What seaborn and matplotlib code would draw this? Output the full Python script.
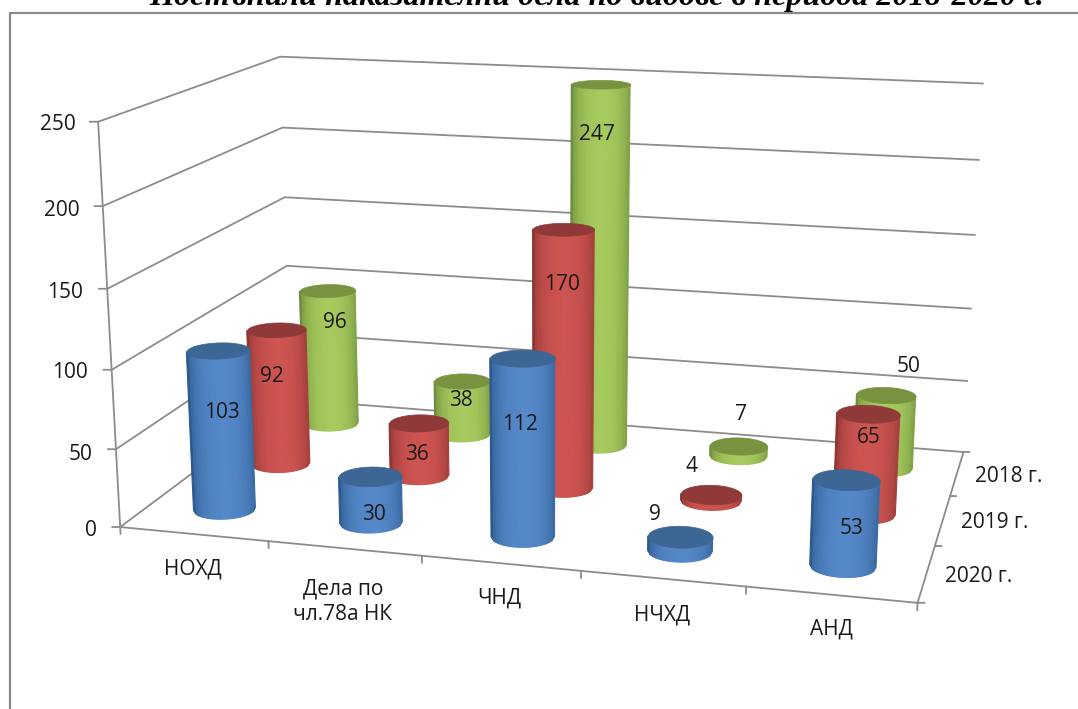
"""Постъпили наказателни дела по видове, 2018-2020: 3D cylinder chart on an mplot3d axes."""

import numpy as np
import matplotlib
matplotlib.use("Agg")
import matplotlib.pyplot as plt
from matplotlib.lines import Line2D
from mpl_toolkits.mplot3d.art3d import Poly3DCollection
import seaborn as sns

# ── data ──
TITLE       = "Постъпили наказателни дела по видове в периода 2018-2020 г."
CATEGORIES  = ["НОХД", "Дела по\nчл.78а НК", "ЧНД", "НЧХД", "АНД"]
SERIES      = ["2020 г.", "2019 г.", "2018 г."]          # front to back
VALUES_2020 = [103, 30, 112, 9, 53]
VALUES_2019 = [92, 36, 170, 4, 65]
VALUES_2018 = [96, 38, 247, 7, 50]
Z_TICKS     = [0, 50, 100, 150, 200, 250]

# ── layout ──
W, H = 1078, 709
RX, RY = 0.198, 0.20          # cylinder radius in category / series units
GRID = "#8c8c8c"
TEXT = "#1a1a1a"
# (dark edge, bright middle, cap) per series
COLORS = [("#2c5a8e", "#5588c9", "#3c6694"),
          ("#8e3432", "#cd5451", "#8f3a38"),
          ("#6e8b3c", "#a6ca5d", "#78933f")]

# camera: axis corners on the canvas, used to solve the projection matrix
CAM_DATA = [(0, 0, 0), (0, 0, 100), (0, 0, 250), (5, 0, 0), (5, 3, 0), (5, 3, 100),
            (5, 3, 250), (0, 3, 0), (0, 3, 100), (0, 3, 250)]
CAM_PX = [(120, 527.5), (112, 369), (98, 122), (917.5, 603), (963.5, 451), (971, 310),
          (983, 83), (291, 400), (287, 265), (280, 57)]

# text anchors in canvas pixels
LABEL_PX = [[(222, 412), (374, 515), (520, 425), (655, 514), (852, 528)],
            [(272, 377), (417, 455), (562, 284), (692, 467), (869, 437)],
            [(335, 323), (461, 401), (597, 134), (741, 415), (909, 366)]]
Z_LABEL_PX = [(97, 531), (92, 454), (88, 373), (83, 292), (80, 210), (76, 125)]
CAT_LABEL_PX = [(193, 569), (343, 602), (499, 598), (662, 615), (831, 629)]
SER_LABEL_PX = [(979, 577), (995, 523), (1009, 476)]


def solve_camera():
    rows, rhs = [], []
    for (x, y, z), (u, v) in zip(CAM_DATA, CAM_PX):
        rows.append([x, y, z, 1, 0, 0, 0, 0, -u * x, -u * y, -u * z]); rhs.append(u)
        rows.append([0, 0, 0, 0, x, y, z, 1, -v * x, -v * y, -v * z]); rhs.append(v)
    p = np.linalg.lstsq(np.array(rows, float), np.array(rhs, float), rcond=None)[0]
    return np.append(p, 1.0).reshape(3, 4)


P = solve_camera()
CAMERA = np.linalg.svd(P)[2][-1]
CAMERA = CAMERA[:3] / CAMERA[3]

sns.set_theme(style="white")
plt.rcParams["font.family"] = ["Open Sans", "DejaVu Sans"]

fig = plt.figure(figsize=(W / 100, H / 100), dpi=100, facecolor="white")
ax = fig.add_axes([0, 0, 1, 1], projection="3d")
ax.set_axis_off()
ax.computed_zorder = False
ax.set_proj_type("ortho")     # only switches off view clipping, get_proj below holds the camera


def get_proj():
    # canvas pixels -> the 2D coordinates mplot3d draws in
    flip = np.array([[1, 0, 0], [0, -1, H], [0, 0, 1.0]])
    a = ax.transData.inverted().get_matrix() @ flip @ P
    return np.array([a[0], a[1], [0, 1, 0, 0], a[2]])


ax.get_proj = get_proj


def draw_cylinder(cat, ser, value, colors, zorder):
    cx, cy = cat + 0.5, ser + 0.5
    dark, mid, cap = colors
    # visible arc, from the camera position in circle-normalised space
    du, dv = (CAMERA[0] - cx) / RX, (CAMERA[1] - cy) / RY
    span = np.arccos(1 / np.hypot(du, dv))
    # facets of about equal width on screen, so the rim has no slivers
    s = np.linspace(-1, 1, 25)
    phi = np.arcsin(s) * span / (np.pi / 2)
    t = np.arctan2(dv, du) + phi
    xs = np.tile(cx + RX * np.cos(t), (2, 1))
    ys = np.tile(cy + RY * np.sin(t), (2, 1))
    zs = np.vstack([np.zeros_like(t), np.full_like(t, value)])

    ramp = np.array(sns.blend_palette([dark, mid], 101))
    shade = (1 - s ** 2) ** 0.55
    cols = ramp[(shade * 100).astype(int), :3]
    cols = np.c_[cols, np.ones(len(cols))]
    ax.plot_surface(xs, ys, zs, facecolors=np.stack([cols, cols]), shade=False,
                    linewidth=0.8, antialiased=True, zorder=zorder)

    t = np.linspace(0, 2 * np.pi, 73)
    top = np.c_[cx + RX * np.cos(t), cy + RY * np.sin(t), np.full_like(t, value)]
    ax.add_collection3d(Poly3DCollection([top], facecolor=cap, edgecolor=cap,
                                         linewidth=0.5, zorder=zorder + 0.5))


# ── walls and floor ──
line = dict(color=GRID, lw=1.3, zorder=1, solid_capstyle="round")
for z in Z_TICKS:
    ax.plot([0, 0, 5], [0, 3, 3], [z, z, z], **line)
    ax.plot([0, -0.05], [0, -0.012], [z, z], **line)
ax.plot([0, 0], [0, 0], [0, 250], **line)
ax.plot([0, 5, 5], [0, 0, 3], [0, 0, 0], **line)
for i in range(6):
    ax.plot([i, i], [0, 0], [0, -4.5], **line)
for j in range(4):
    ax.plot([5, 5.04], [j, j + 0.012], [0, 0], **line)

# ── cylinders, back row first ──
all_values = [VALUES_2020, VALUES_2019, VALUES_2018]
for ser in [2, 1, 0]:
    for cat, value in enumerate(all_values[ser]):
        draw_cylinder(cat, ser, value, COLORS[ser], zorder=10 + (2 - ser) * 10 + cat)

for artist in ax.get_children():
    artist.set_clip_on(False)


# ── text ──
def put(xy, s, ha="center", size=15, **kw):
    fig.text(xy[0] / W, 1 - xy[1] / H, s, ha=ha, va="center", fontsize=size, color=TEXT,
             zorder=100, **kw)


for ser, row in enumerate(all_values):
    for xy, value in zip(LABEL_PX[ser], row):
        put(xy, str(value))
for xy, z in zip(Z_LABEL_PX, Z_TICKS):
    put(xy, str(z), ha="right")
for xy, name in zip(CAT_LABEL_PX, CATEGORIES):
    put(xy, name, linespacing=1.3)
for xy, name in zip(SER_LABEL_PX, SERIES):
    put(xy, name)

fig.text(597 / W, 1 - 5 / H, TITLE, ha="center", va="baseline", fontsize=23.2, color="black",
         family="Liberation Serif", fontweight="bold", fontstyle="italic")

# page frame, open to the right and the bottom
frame = dict(color="#8a8a8a", lw=1.6, transform=fig.transFigure)
fig.add_artist(Line2D([9.5 / W, 9.5 / W, 1], [0, 1 - 12.5 / H, 1 - 12.5 / H], **frame))

fig.savefig("out.png", dpi=100)
